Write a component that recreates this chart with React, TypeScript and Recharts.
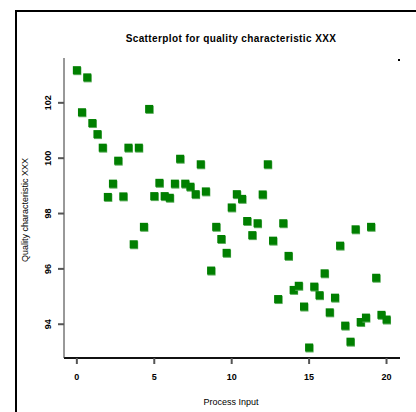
import React from 'react';
import { ScatterChart, Scatter, XAxis, YAxis } from 'recharts';

const processInput: number[] = [
  0, 0.33, 0.67, 1, 1.33, 1.67, 2, 2.33, 2.67, 3,
  3.33, 3.67, 4, 4.33, 4.67, 5, 5.33, 5.67, 6, 6.33,
  6.67, 7, 7.33, 7.67, 8, 8.33, 8.67, 9, 9.33, 9.67,
  10, 10.33, 10.67, 11, 11.33, 11.67, 12, 12.33, 12.67, 13,
  13.33, 13.67, 14, 14.33, 14.67, 15, 15.33, 15.67, 16, 16.33,
  16.67, 17, 17.33, 17.67, 18, 18.33, 18.67, 19, 19.33, 19.67,
  20,
];

const quality: number[] = [
  103.18, 101.66, 102.92, 101.27, 100.87, 100.38, 98.6, 99.08, 99.91, 98.62,
  100.38, 96.89, 100.38, 97.52, 101.78, 98.63, 99.11, 98.63, 98.57, 99.08,
  99.98, 99.08, 98.97, 98.7, 99.78, 98.8, 95.94, 97.52, 97.08, 96.58,
  98.22, 98.7, 98.53, 97.73, 97.22, 97.65, 98.69, 99.78, 97.02, 94.91,
  97.65, 96.47, 95.24, 95.39, 94.64, 93.16, 95.36, 95.05, 95.84, 94.43,
  94.96, 96.84, 93.95, 93.37, 97.43, 94.08, 94.24, 97.52, 95.68, 94.34,
  94.17,
];

const xTicks: number[] = [0, 5, 10, 15, 20];
const yTicks: number[] = [94, 96, 98, 100, 102];

const titleText = 'Scatterplot for quality characteristic XXX';
const xLabel = 'Process Input';
const yLabel = 'Quality characteristic XXX';

const data = processInput.map((x, i) => ({ x, y: quality[i] }));

const FONT = '"Liberation Sans", Arial, sans-serif';

const Square = (props: any) => {
  const { cx, cy } = props;
  if (cx == null || cy == null) return null;
  return (
    <g>
      <rect x={cx - 3.5} y={cy - 3} width={8} height={8} fill="#5cad5c" />
      <rect x={cx - 4} y={cy - 4} width={8} height={8} fill="#007f00" />
    </g>
  );
};

const XTick = (props: any) => {
  const { x, y, payload } = props;
  return (
    <text x={x} y={y + 14} textAnchor="middle" fontSize={9} fontWeight="bold" fontFamily={FONT} fill="#000">
      {payload.value}
    </text>
  );
};

const YTick = (props: any) => {
  const { x, y, payload } = props;
  const bx = x - 5;
  return (
    <text x={bx} y={y} textAnchor="middle" fontSize={9} fontWeight="bold" fontFamily={FONT} fill="#000"
      transform={`rotate(-90 ${bx} ${y})`}>
      {payload.value}
    </text>
  );
};

export default function App() {
  return (
    <div style={{ position: 'absolute', left: 0, top: 0, width: 416, height: 412, background: '#fff' }}>
      <ScatterChart width={416} height={412} margin={{ top: 58, right: 16, bottom: 0, left: 0 }}>
        <XAxis
          type="number"
          dataKey="x"
          domain={[-0.83, 20.87]}
          ticks={xTicks}
          allowDataOverflow
          height={54}
          tickSize={6}
          tickMargin={2}
          stroke="#111"
          strokeWidth={2}
          tickLine={{ stroke: '#555', strokeWidth: 2 }}
          tick={<XTick />}
        />
        <YAxis
          type="number"
          dataKey="y"
          domain={[92.78, 103.62]}
          ticks={yTicks}
          allowDataOverflow
          width={64}
          tickSize={6}
          tickMargin={2}
          stroke="#333"
          strokeWidth={1}
          tickLine={{ stroke: '#555', strokeWidth: 2 }}
          tick={<YTick />}
        />
        <Scatter data={data} isAnimationActive={false} shape={<Square />} />
      </ScatterChart>
      <svg width={416} height={412} style={{ position: 'absolute', left: 0, top: 0, pointerEvents: 'none' }}>
        <line x1={16} y1={10} x2={16} y2={412} stroke="#000" strokeWidth={2} />
        <line x1={15} y1={11} x2={416} y2={11} stroke="#000" strokeWidth={2} />
        <text x={231} y={42} textAnchor="middle" fontSize={10} letterSpacing={0.4} fontWeight="bold" fontFamily={FONT} fill="#000">
          {titleText}
        </text>
        <text x={231} y={405} textAnchor="middle" fontSize={9} fontFamily={FONT} fill="#000">
          {xLabel}
        </text>
        <text x={27.5} y={210} textAnchor="middle" fontSize={9} fontFamily={FONT} fill="#000"
          transform="rotate(-90 27.5 210)">
          {yLabel}
        </text>
        <rect x={398} y={59} width={2} height={2} fill="#000" />
      </svg>
    </div>
  );
}
